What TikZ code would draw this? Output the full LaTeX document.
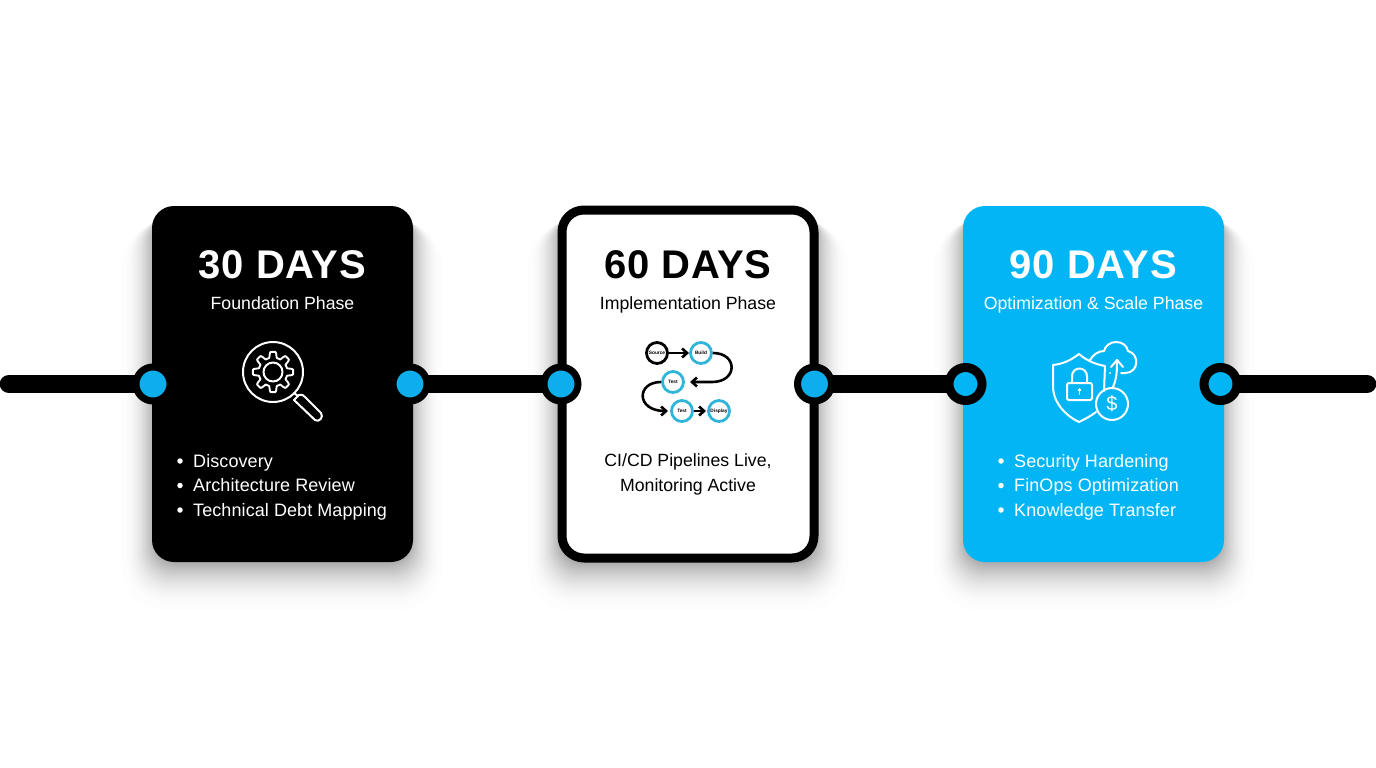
\documentclass[tikz,border=0pt]{standalone}
\usepackage{fontspec}
\setmainfont{Liberation Sans}
\newfontfamily\titlefont[LetterSpace=2]{Liberation Sans}
\newfontfamily\listfont[LetterSpace=0.5]{Liberation Sans}
\usetikzlibrary{arrows.meta}
\pgfdeclarelayer{bg}
\pgfsetlayers{bg,main}
\definecolor{cardblue}{HTML}{02B6F6}
\definecolor{dotblue}{HTML}{0DAEEC}
\definecolor{ringblue}{HTML}{2FB4DA}
\tikzset{
  x=1pt,y=-1pt,
  rail/.style={line width=18.6pt,line cap=round,black},
  inring/.style={circle,draw=black,line width=7pt,fill=dotblue,minimum size=34pt,inner sep=0pt,outer sep=0pt},
  outring/.style={circle,draw=black,line width=9pt,fill=cardblue,minimum size=33pt,inner sep=0pt,outer sep=0pt},
  cardbg/.style={rounded corners=22pt},
  titletext/.style={font=\titlefont\bfseries\fontsize{40}{44}\selectfont,anchor=base},
  subtext/.style={font=\fontsize{17.7}{20}\selectfont,anchor=base},
  listtext/.style={font=\listfont\fontsize{18}{20}\selectfont,anchor=base west,inner sep=0pt},
  bul/.style={circle,inner sep=0pt,minimum size=5.5pt},
  icon/.style={line width=2pt,line cap=round,line join=round},
  flownode/.style={circle,draw=ringblue,line width=2.8pt,fill=white,minimum size=21pt,inner sep=0pt,font=\bfseries\fontsize{4.8}{5}\selectfont},
  flowarrow/.style={black,line width=2.6pt,-{Straight Barb[length=5pt,width=9pt]}},
}
\newcommand{\softshadow}[2]{%
  \foreach \i in {0,...,39}{
    \pgfmathsetmacro{\q}{sqrt(\i/39)}
    \pgfmathsetmacro{\rr}{44-22*\q}
    \fill[black,opacity=0.009,rounded corners=\rr pt]
      ({#1-30+32*\q},{222-8*\q}) rectangle ({#2+30-32*\q},{610-46*\q});
  }%
}
\begin{document}
\begin{tikzpicture}
\useasboundingbox (0,0) rectangle (1376,768);
\coordinate (railL) at (9,384);
\coordinate (railR) at (1367,384);
% cards
\node[cardbg,fill=black,minimum width=261pt,minimum height=356pt,inner sep=0pt] (card1) at (282.5,384) {};
\node[cardbg,fill=white,draw=black,line width=9pt,minimum width=252pt,minimum height=348pt,inner sep=0pt] (card2) at (688,384) {};
\node[cardbg,fill=cardblue,minimum width=261pt,minimum height=356pt,inner sep=0pt] (card3) at (1093.5,384) {};
% junctions
\node[inring] (n1) at (153,384) {};
\node[inring] (n2) at (410,384) {};
\node[inring] (n3) at (561,384) {};
\node[inring] (n4) at (814.5,384) {};
\node[outring] (n5) at (965.5,384) {};
\node[outring] (n6) at (1220.5,384) {};
\begin{pgfonlayer}{bg}
\fill[white] (0,0) rectangle (1376,768);
\softshadow{152}{413}
\softshadow{558}{818}
\softshadow{963}{1224}
\draw[rail] (railL) -- (n1.center);
\draw[rail,line cap=butt] (n2.center) -- (n3.center);
\draw[rail,line cap=butt] (n4.center) -- (n5.center);
\draw[rail] (n6.center) -- (railR);
\end{pgfonlayer}
% titles
\node[titletext,text=white] (t1) at (282.5,278) {30 DAYS};
\node[titletext,text=black] (t2) at (688,278) {60 DAYS};
\node[titletext,text=white] (t3) at (1093.5,278) {90 DAYS};
\node[subtext,text=white] (s1) at (282.5,309) {Foundation Phase};
\node[subtext,text=black] (s2) at (688,309) {Implementation Phase};
\node[subtext,text=white] (s3) at (1093.5,309) {Optimization \& Scale Phase};
% lists
\foreach \nm/\y/\tx in {a/467/Discovery,b/491.5/Architecture Review,c/516/Technical Debt Mapping}{
  \node[bul,fill=white] (l1\nm b) at (180,\y-6) {};
  \node[listtext,text=white] (l1\nm) at (193,\y) {\tx};
}
\foreach \nm/\y/\tx in {a/467/Security Hardening,b/491.5/FinOps Optimization,c/516/Knowledge Transfer}{
  \node[bul,fill=white] (l3\nm b) at (1001,\y-6) {};
  \node[listtext,text=white] (l3\nm) at (1014,\y) {\tx};
}
\node[subtext,text=black] (m1) at (688,466) {CI/CD Pipelines Live,};
\node[subtext,text=black] (m2) at (688,491) {Monitoring Active};
% magnifier + gear icon
\begin{scope}[icon]
  \draw[white] (273,372) circle (30);
  \draw[white] (273,372) circle (9.5);
  \draw[white,line width=1.9pt] plot[domain=0:360,samples=161,smooth cycle]
    ({273+(17.3+2.9*max(-1,min(1,2.2*cos(8*\x))))*cos(\x)},{372+(17.3+2.9*max(-1,min(1,2.2*cos(8*\x))))*sin(\x)});
  \draw[white] (294,393) -- (298,396);
  \draw[white] (294,400) -- (299,395) .. controls (302,394) and (303,395) .. (305,397) -- (321,413) .. controls (324,417) and (319,423) .. (315,420) -- cycle;
\end{scope}
% flow icon
\node[flownode,draw=black] (f1) at (657,353) {Source};
\node[flownode] (f2) at (701,353) {Build};
\node[flownode] (f3) at (673,382) {Test};
\node[flownode] (f4) at (682,411) {Test};
\node[flownode] (f5) at (719,411) {Display};
\coordinate (f3in) at (690,382);
\coordinate (f4in) at (668,411);
\coordinate (f5in) at (706,411);
\coordinate (f2in) at (689,353);
\draw[flowarrow] (f1.east) -- (f2in);
\draw[flowarrow] (f2.east) .. controls (738,353) and (738,382) .. (712,382) -- (f3in);
\draw[flowarrow] (f3.west) .. controls (636,382) and (636,411) .. (f4in);
\draw[flowarrow] (f4.east) -- (f5in);
% shield icon
\begin{scope}[icon]
  \draw[white] (1079,354) .. controls (1070,361) and (1062,364) .. (1053,365) -- (1053,386)
     .. controls (1053,403) and (1066,416) .. (1079,422) .. controls (1085,419) and (1091,416) .. (1096,412);
  \draw[white] (1079,354) .. controls (1086,360) and (1094,364) .. (1105,366) -- (1104,391);
  \draw[white,rounded corners=2pt] (1067,383) rectangle (1092,400);
  \draw[white] (1072,383) -- (1072,376) arc[start angle=180,end angle=360,radius=7.5] -- (1087,383);
  \fill[white] (1079.5,390) circle (1.8);
  \draw[white,line width=1.5pt] (1079.5,390) -- (1079.5,394);
  \draw[white] (1090,360) .. controls (1093,355) and (1098,351) .. (1104,351) .. controls (1105,346) and (1110,342) .. (1116,342) .. controls (1123,342) and (1127,346) .. (1128,351) .. controls (1140,354) and (1139,373) .. (1125,373) -- (1121,373);
  \draw[white] (1117,361) .. controls (1117,375) and (1116,380) .. (1113,387);
  \draw[white] (1111,367) -- (1117,360) -- (1123,367);
  \fill[white] (1110,373) circle (1);
  \draw[white] (1112,404) circle (16);
  \node[font=\fontsize{20}{20}\selectfont,text=white,inner sep=0pt] (dollar) at (1112,404) {\$};
\end{scope}
\end{tikzpicture}
\end{document}
